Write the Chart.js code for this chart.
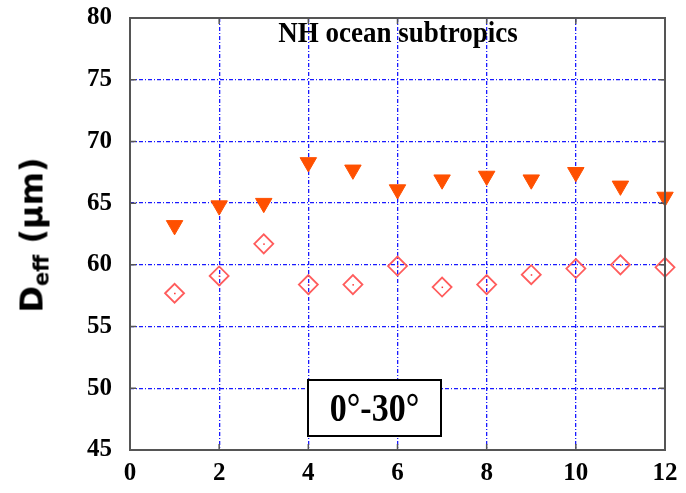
<!DOCTYPE html>
<html>
<head>
<meta charset="utf-8">
<script src="https://cdn.jsdelivr.net/npm/chart.js@4"></script>
<style>
  body { margin: 0; background: #fff; }
  #wrap { position: relative; width: 686px; height: 493px; }
  #ylab {
    position: absolute; left: 33px; top: 235px;
    transform: translate(-50%, -50%) rotate(-90deg);
    font: bold 32px "DejaVu Sans", sans-serif; white-space: nowrap; color: #000;
  }
  #ylab sub { font-size: 21px; vertical-align: -6px; }
  #title {
    position: absolute; left: 398px; top: 33px; transform: translate(-50%, -50%) scaleY(1.1);
    font: bold 27px "Liberation Serif", serif; white-space: nowrap; color: #000;
  }
  #box {
    position: absolute; left: 307px; top: 379px; width: 131px; height: 54px;
    border: 2.5px solid #000; background: #fff;
    font: bold 34px "Liberation Serif", serif; text-align: center; line-height: 54px;
  }
  #box span { display: inline-block; transform: scaleY(1.2); }
</style>
</head>
<body>
<div id="wrap">
  <canvas id="chart"></canvas>
  <div id="ylab">D<sub>eff</sub> (μm)</div>
  <div id="title">NH ocean subtropics</div>
  <div id="box"><span>0°-30°</span></div>
</div>
<script>
const months = [1, 2, 3, 4, 5, 6, 7, 8, 9, 10, 11, 12];
const deffFilled = [63.2, 64.8, 65.0, 68.3, 67.7, 66.1, 66.9, 67.2, 66.9, 67.5, 66.4, 65.5];
const deffOpen = [57.7, 59.1, 61.7, 58.4, 58.4, 59.9, 58.2, 58.4, 59.2, 59.7, 60.0, 59.8];
const xTicks = [0, 2, 4, 6, 8, 10, 12];
const yTicks = [45, 50, 55, 60, 65, 70, 75, 80];

const tickFont = { family: 'Liberation Serif', size: 25, weight: 'bold' };

// frame round the plot, inner tick marks, dot in the middle of each diamond
const framePlugin = {
    id: 'frame',
    afterDatasetsDraw(chart) {
        const ctx = chart.ctx;
        const meta = chart.getDatasetMeta(1);
        ctx.save();
        ctx.fillStyle = '#ff3030';
        meta.data.forEach(p => {
            ctx.fillRect(p.x - 0.5, p.y - 0.5, 1.5, 1.5);
        });
        ctx.restore();
    },
    afterDraw(chart) {
        const a = chart.chartArea;
        const ctx = chart.ctx;
        const xs = chart.scales.x, ys = chart.scales.y;
        ctx.save();
        ctx.strokeStyle = '#555';
        ctx.lineWidth = 2;
        ctx.strokeRect(a.left, a.top, a.right - a.left, a.bottom - a.top);
        ctx.lineWidth = 1.5;
        ctx.beginPath();
        xTicks.forEach(v => {
            const px = xs.getPixelForValue(v);
            ctx.moveTo(px, a.bottom); ctx.lineTo(px, a.bottom - 6);
            ctx.moveTo(px, a.top); ctx.lineTo(px, a.top + 6);
        });
        yTicks.forEach(v => {
            const py = ys.getPixelForValue(v);
            ctx.moveTo(a.left, py); ctx.lineTo(a.left + 6, py);
            ctx.moveTo(a.right, py); ctx.lineTo(a.right - 6, py);
        });
        ctx.stroke();
        ctx.restore();
    }
};

new Chart(document.getElementById('chart'), {
    type: 'scatter',
    data: {
        datasets: [{
            data: months.map((m, i) => ({ x: m, y: deffFilled[i] })),
            pointStyle: 'triangle',
            rotation: 180,
            radius: 9.5,
            backgroundColor: '#ff5000',
            borderColor: '#ff5000',
            borderWidth: 1,
            clip: false
        }, {
            data: months.map((m, i) => ({ x: m, y: deffOpen[i] })),
            pointStyle: 'rectRot',
            radius: 9.5,
            backgroundColor: 'rgba(0,0,0,0)',
            borderColor: '#ff5c5c',
            borderWidth: 1.8,
            clip: false
        }]
    },
    options: {
        responsive: true,
        maintainAspectRatio: false,
        animation: false,
        layout: { padding: { top: 18, right: 21, left: 0, bottom: 0 } },
        plugins: { legend: { display: false }, tooltip: { enabled: false } },
        scales: {
            x: {
                type: 'linear', min: 0, max: 12,
                afterFit: s => { s.height = 43; s.paddingLeft = 0; s.paddingRight = 0; },
                afterBuildTicks: s => { s.ticks = xTicks.map(v => ({ value: v })); },
                ticks: { color: '#000', font: tickFont, padding: 9 },
                grid: { color: '#1a1aff', lineWidth: 1.3, drawTicks: false },
                border: { display: false, dash: [4, 2, 1, 2] }
            },
            y: {
                min: 45, max: 80,
                afterFit: s => { s.width = 130; s.paddingTop = 0; s.paddingBottom = 0; },
                afterBuildTicks: s => { s.ticks = yTicks.map(v => ({ value: v })); },
                ticks: { color: '#000', font: tickFont, padding: 18 },
                grid: { color: '#1a1aff', lineWidth: 1.3, drawTicks: false },
                border: { display: false, dash: [4, 2, 1, 2] }
            }
        }
    },
    plugins: [framePlugin]
});
</script>
</body>
</html>
